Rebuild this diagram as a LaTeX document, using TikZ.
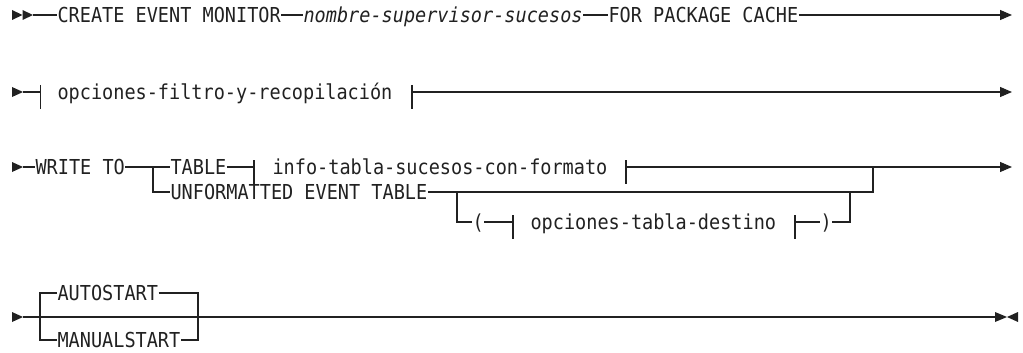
\documentclass[tikz,border=0pt]{standalone}
\usepackage{fontspec}
\newfontfamily\mono[FakeStretch=0.9]{DejaVu Sans Mono}
\usetikzlibrary{arrows.meta}
\definecolor{ink}{gray}{0.13}
\begin{document}
\begin{tikzpicture}[x=1pt,y=-1pt,line width=1.1pt,
  kw/.style={font=\mono\fontsize{20.6pt}{24pt}\selectfont, inner sep=0pt, text height=15pt, text depth=0pt, anchor=west, text=ink},
  var/.style={kw, font=\mono\fontsize{20.6pt}{24pt}\selectfont\itshape},
  go/.style={draw=ink,-{Triangle[length=12pt,width=10pt]}},
  ln/.style={draw=ink},
  tipfill/.style={fill=ink, draw=none},
  barline/.style={draw=ink}]
\useasboundingbox (0,0) rectangle (1023,353);
\begin{scope}[yshift=3pt]
% ---------- row 1
\fill[tipfill] (12,13) -- (22.5,18) -- (12,23) -- cycle;
\fill[tipfill] (22.5,13) -- (33,18) -- (22.5,23) -- cycle;
\coordinate (s1) at (33,18);
\node[kw] (c1) at (57,18) {CREATE EVENT MONITOR};
\node[var] (c2) at (303,18) {nombre-supervisor-sucesos};
\node[kw] (c3) at (608,18) {FOR PACKAGE CACHE};
\coordinate (e1) at (1012,18);
\draw[ln] (s1) -- (c1.west);
\draw[ln] (c1.east) -- (c2.west);
\draw[ln] (c2.east) -- (c3.west);
\draw[go] (c3.east) -- (e1);

% ---------- row 2
\fill[tipfill] (12,90) -- (23,95) -- (12,100) -- cycle;
\coordinate (s2) at (23,95);
\coordinate (b2l) at (40.5,95);
\node[kw] (ofr) at (57,95) {opciones-filtro-y-recopilación};
\coordinate (b2r) at (412,95);
\coordinate (e2) at (1012,95);
\draw[ln] (s2) -- (b2l);
\draw[barline] (b2l) ++(0,-7) -- ++(0,24);
\draw[barline] (b2r) ++(0,-7) -- ++(0,24);
\draw[go] (b2r) -- (e2);

% ---------- row 3
\fill[tipfill] (12,165) -- (23,170) -- (12,175) -- cycle;
\coordinate (s3) at (23,170);
\node[kw] (w) at (35,170) {WRITE TO};
\coordinate (j1) at (153,170);
\node[kw] (tab) at (170,170) {TABLE};
\coordinate (b3l) at (254,170);
\node[kw] (info) at (272,170) {info-tabla-sucesos-con-formato};
\coordinate (b3r) at (626,170);
\coordinate (j2) at (873,170);
\coordinate (e3) at (1012,170);
\node[kw] (unf) at (170,195) {UNFORMATTED EVENT TABLE};
\coordinate (j3) at (457,195);
\coordinate (j4) at (850,195);
\node[kw] (lp) at (472,225) {(};
\coordinate (b4l) at (513,225);
\node[kw] (otd) at (530,225) {opciones-tabla-destino};
\coordinate (b4r) at (795,225);
\node[kw] (rp) at (820,225) {)};

\draw[ln] (s3) -- (w.west);
\draw[ln] (w.east) -- (tab.west);
\draw[ln] (tab.east) -- (b3l);
\draw[barline] (b3l) ++(0,-7) -- ++(0,24);
\draw[barline] (b3r) ++(0,-7) -- ++(0,24);
\draw[go] (b3r) -- (e3);
\draw[ln] (j1) |- (unf.west);
\draw[ln] (unf.east) -| (j2);
\draw[ln] (j3) |- (lp.west);
\draw[ln] (lp.east) -- (b4l);
\draw[barline] (b4l) ++(0,-7) -- ++(0,24);
\draw[barline] (b4r) ++(0,-7) -- ++(0,24);
\draw[ln] (b4r) -- (rp.west);
\draw[ln] (rp.east) -| (j4);

% ---------- row 4
\fill[tipfill] (12,315) -- (23,320) -- (12,325) -- cycle;
\coordinate (s4) at (23,320);
\coordinate (e4) at (995,320);
\coordinate (j5) at (40,320);
\coordinate (j6) at (198,320);
\node[kw] (auto) at (57,296) {AUTOSTART};
\node[kw] (man) at (57,343) {MANUALSTART};
\draw[ln] (s4) -- (e4);
\draw[ln] (auto.west) -| (j5) |- (man.west);
\draw[ln] (auto.east) -| (j6) |- (man.east);
\draw[ln,line width=1.8pt] (203,320) -- (225,320);
\fill[tipfill] (995,315) -- (1007,320) -- (995,325) -- cycle;
\fill[tipfill] (1018,315) -- (1007,320) -- (1018,325) -- cycle;
\end{scope}
\end{tikzpicture}
\end{document}
